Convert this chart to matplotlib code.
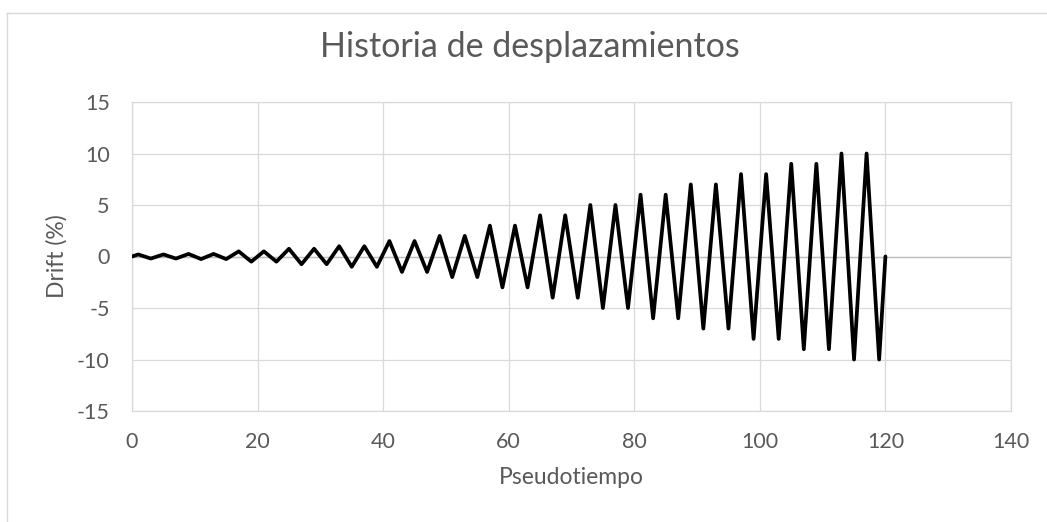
import matplotlib
matplotlib.use("Agg")
import matplotlib.pyplot as plt
from matplotlib.lines import Line2D

# cyclic drift protocol: vertices of the loading history
pseudotiempo = [0, 1, 3, 5, 7, 9, 11, 13, 15, 17, 19, 21, 23, 25, 27, 29, 31,
                33, 35, 37, 39, 41, 43, 45, 47, 49, 51, 53, 55, 57, 59, 61, 63,
                65, 67, 69, 71, 73, 75, 77, 79, 81, 83, 85, 87, 89, 91, 93, 95,
                97, 99, 101, 103, 105, 107, 109, 111, 113, 115, 117, 119, 120]
drift = [0,
         0.2, -0.2, 0.2, -0.2,
         0.25, -0.25, 0.25, -0.25,
         0.5, -0.5, 0.5, -0.5,
         0.75, -0.75, 0.75, -0.75,
         1, -1, 1, -1,
         1.5, -1.5, 1.5, -1.5,
         2, -2, 2, -2,
         3, -3, 3, -3,
         4, -4, 4, -4,
         5, -5, 5, -5,
         6, -6, 6, -6,
         7, -7, 7, -7,
         8, -8, 8, -8,
         9, -9, 9, -9,
         10, -10, 10, -10,
         0]

x_ticks = [0, 20, 40, 60, 80, 100, 120, 140]
y_ticks = [-15, -10, -5, 0, 5, 10, 15]

TXT = "#595959"
GRID = "#d9d9d9"
plt.rcParams["font.family"] = ["Lato", "DejaVu Sans"]
plt.rcParams["axes.unicode_minus"] = False

W, H = 1047, 522
fig = plt.figure(figsize=(W / 100, H / 100), dpi=100)
ax = fig.add_axes([132 / W, 1 - 411 / H, (1011 - 132) / W, (411 - 102) / H])

ax.plot(pseudotiempo, drift, color="black", lw=2.7, zorder=3,
        solid_joinstyle="round", solid_capstyle="round")
ax.axhline(0, color="#bfbfbf", lw=1.0, zorder=2)

ax.set_xlim(0, 140); ax.set_ylim(-15, 15)
ax.set_xticks(x_ticks); ax.set_yticks(y_ticks)
ax.grid(True, color=GRID, lw=0.9, zorder=1)
for s in ax.spines.values():
    s.set_color(GRID); s.set_linewidth(0.9)
ax.tick_params(length=0, labelsize=15.5, labelcolor=TXT)
ax.tick_params(axis="x", pad=15)
ax.tick_params(axis="y", pad=16)

ax.set_xlabel("Pseudotiempo", fontsize=16.5, color=TXT)
ax.xaxis.set_label_coords(0.5, (411 - 467) / 309)
ax.set_ylabel("Drift (%)", fontsize=16.5, color=TXT)
ax.yaxis.set_label_coords((68 - 132) / 879, 0.5)

fig.text(530 / W, 1 - 57 / H, "Historia de desplazamientos", fontsize=24.5,
         color=TXT, ha="center", va="baseline")

# chart area border (partly cropped in the original)
fig.add_artist(Line2D([7 / W, 1], [1 - 13 / H] * 2, color=GRID, lw=1))
fig.add_artist(Line2D([7 / W] * 2, [0, 1 - 13 / H], color=GRID, lw=1))

fig.savefig("out.png", dpi=100, facecolor="white")
